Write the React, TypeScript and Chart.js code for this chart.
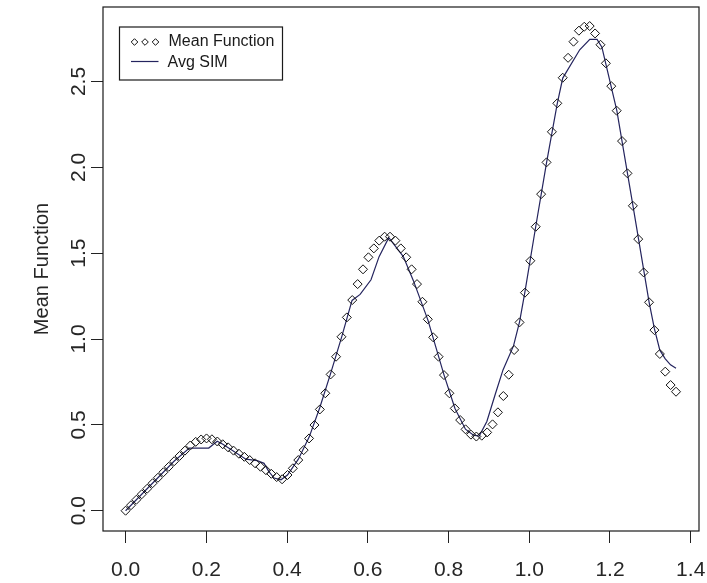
import React, { useEffect, useRef } from 'react';
import { Chart, registerables } from 'chart.js';

Chart.register(...registerables);

const meanX = [
  0, 0.0134, 0.0267, 0.0401, 0.0535, 0.0668, 0.0802, 0.0936, 0.107, 0.1203,
  0.1337, 0.1471, 0.1604, 0.1738, 0.1872, 0.2005, 0.2139, 0.2273, 0.2406, 0.254,
  0.2674, 0.2807, 0.2941, 0.3075, 0.3209, 0.3342, 0.3476, 0.361, 0.3743, 0.3877,
  0.4011, 0.4144, 0.4278, 0.4412, 0.4545, 0.4679, 0.4813, 0.4947, 0.508, 0.5214,
  0.5348, 0.5481, 0.5615, 0.5749, 0.5882, 0.6016, 0.615, 0.6283, 0.6417, 0.6551,
  0.6684, 0.6818, 0.6952, 0.7086, 0.7219, 0.7353, 0.7487, 0.762, 0.7754, 0.7888,
  0.8021, 0.8155, 0.8289, 0.8422, 0.8556, 0.869, 0.8823, 0.8957, 0.9091, 0.9224,
  0.9358, 0.9492, 0.9626, 0.9759, 0.9893, 1.0027, 1.016, 1.0294, 1.0428, 1.0561,
  1.0695, 1.0829, 1.0962, 1.1096, 1.123, 1.1363, 1.1497, 1.1631, 1.1765, 1.1898,
  1.2032, 1.2166, 1.2299, 1.2433, 1.2567, 1.27, 1.2834, 1.2968, 1.3101, 1.3235,
  1.3369, 1.3502, 1.3636,
];

const meanY = [
  0.0, 0.032, 0.064, 0.096, 0.128, 0.16, 0.192, 0.224, 0.256, 0.288,
  0.319, 0.35, 0.38, 0.401, 0.415, 0.421, 0.416, 0.403, 0.387, 0.369,
  0.35, 0.332, 0.314, 0.295, 0.276, 0.256, 0.236, 0.215, 0.196, 0.183,
  0.208, 0.247, 0.295, 0.353, 0.421, 0.499, 0.59, 0.684, 0.794, 0.897,
  1.013, 1.126, 1.227, 1.32, 1.406, 1.476, 1.528, 1.573, 1.596, 1.596,
  1.573, 1.528, 1.476, 1.406, 1.32, 1.217, 1.115, 1.01, 0.897, 0.79,
  0.684, 0.596, 0.528, 0.474, 0.443, 0.432, 0.437, 0.456, 0.503, 0.573,
  0.668, 0.792, 0.936, 1.097, 1.27, 1.456, 1.654, 1.844, 2.029, 2.207,
  2.373, 2.522, 2.638, 2.732, 2.796, 2.819, 2.823, 2.78, 2.714, 2.606,
  2.473, 2.33, 2.153, 1.965, 1.776, 1.582, 1.388, 1.214, 1.052, 0.913,
  0.81, 0.732, 0.693,
];

const simX = [
  0, 0.04, 0.08, 0.12, 0.158, 0.206, 0.227, 0.241, 0.298, 0.326,
  0.343, 0.355, 0.368, 0.385, 0.401, 0.428, 0.455, 0.481, 0.508, 0.535,
  0.561, 0.581, 0.608, 0.628, 0.652, 0.688, 0.713, 0.749, 0.789, 0.816,
  0.842, 0.862, 0.876, 0.895, 0.916, 0.935, 0.961, 0.976, 0.989, 1.016,
  1.043, 1.0695, 1.083, 1.125, 1.15, 1.168, 1.18, 1.19, 1.217, 1.257,
  1.297, 1.31, 1.3235, 1.337, 1.35, 1.3636,
];

const simY = [
  0, 0.096, 0.192, 0.288, 0.365, 0.365, 0.405, 0.387, 0.3, 0.292,
  0.276, 0.228, 0.19, 0.18, 0.208, 0.3, 0.43, 0.6, 0.8, 1.01,
  1.225, 1.26, 1.345, 1.48, 1.59, 1.48, 1.34, 1.11, 0.79, 0.595,
  0.475, 0.44, 0.435, 0.52, 0.68, 0.82, 0.96, 1.1, 1.27, 1.654,
  2.029, 2.373, 2.52, 2.685, 2.745, 2.745, 2.7, 2.6, 2.33, 1.776,
  1.214, 1.06, 0.935, 0.885, 0.85, 0.83,
];

const xTicks = [0, 0.2, 0.4, 0.6, 0.8, 1.0, 1.2, 1.4];
const yTicks = [0, 0.5, 1.0, 1.5, 2.0, 2.5];
const seriesNames = ['Mean Function', 'Avg SIM'];
const yTitle = 'Mean Function';

const FONT = "'Liberation Sans', Arial, sans-serif";
const INK = '#262626';
const LINE = '#24245e';

const framePlugin = {
  id: 'rframe',
  afterDraw(chart: any) {
    const { ctx, chartArea } = chart;
    const { left, top, right, bottom } = chartArea;
    ctx.save();
    ctx.strokeStyle = '#1a1a1a';
    ctx.lineWidth = 1.2;
    ctx.strokeRect(left, top, right - left, bottom - top);

    // legend box
    const bx = left + 16.5;
    const by = top + 20;
    const bw = 163;
    const bh = 53;
    ctx.fillStyle = '#ffffff';
    ctx.fillRect(bx, by, bw, bh);
    ctx.strokeStyle = '#1a1a1a';
    ctx.lineWidth = 1.2;
    ctx.strokeRect(bx, by, bw, bh);

    const y1 = by + 15;
    const y2 = by + 34.5;
    // diamonds
    ctx.strokeStyle = '#111';
    ctx.lineWidth = 1;
    [bx + 15, bx + 25.5, bx + 36].forEach((cx) => {
      const r = 3.3;
      ctx.beginPath();
      ctx.moveTo(cx - r, y1);
      ctx.lineTo(cx, y1 - r);
      ctx.lineTo(cx + r, y1);
      ctx.lineTo(cx, y1 + r);
      ctx.closePath();
      ctx.stroke();
    });
    // line
    ctx.strokeStyle = LINE;
    ctx.lineWidth = 1.2;
    ctx.beginPath();
    ctx.moveTo(bx + 11.5, y2);
    ctx.lineTo(bx + 39, y2);
    ctx.stroke();

    ctx.fillStyle = '#1a1a1a';
    ctx.font = `16px ${FONT}`;
    ctx.textBaseline = 'middle';
    ctx.textAlign = 'left';
    ctx.fillText(seriesNames[0], bx + 49, y1);
    ctx.fillText(seriesNames[1], bx + 48, y2 + 1);
    ctx.restore();
  },
};

export default function App() {
  const ref = useRef<HTMLCanvasElement>(null);

  useEffect(() => {
    const meanData = meanX.map((x, i) => ({ x, y: meanY[i] }));
    const simData = simX.map((x, i) => ({ x, y: simY[i] }));

    const chart = new Chart(ref.current as HTMLCanvasElement, {
      type: 'scatter',
      data: {
        datasets: [
          {
            label: seriesNames[0],
            data: meanData,
            showLine: false,
            pointStyle: 'rectRot',
            pointRadius: 4.5,
            pointBorderWidth: 1,
            pointBorderColor: '#111',
            pointBackgroundColor: 'rgba(0,0,0,0)',
          },
          {
            label: seriesNames[1],
            data: simData,
            showLine: true,
            borderColor: LINE,
            borderWidth: 1.2,
            pointRadius: 0,
            tension: 0,
            fill: false,
          },
        ],
      },
      options: {
        animation: false,
        responsive: false,
        devicePixelRatio: 1,
        clip: false as any,
        layout: { padding: { top: 7, right: 8, left: 0, bottom: 0 } },
        plugins: {
          legend: { display: false },
          tooltip: { enabled: false },
        },
        scales: {
          x: {
            type: 'linear',
            min: -0.05596,
            max: 1.42054,
            afterBuildTicks: (s: any) => {
              s.ticks = xTicks.map((v) => ({ value: v }));
            },
            afterFit: (s: any) => {
              s.height = 52;
              s.paddingLeft = 0;
              s.paddingRight = 0;
            },
            border: { display: false },
            grid: {
              display: true,
              drawOnChartArea: false,
              drawTicks: true,
              tickLength: 12,
              color: '#222',
              lineWidth: 1,
            },
            ticks: {
              autoSkip: false,
              maxRotation: 0,
              minRotation: 0,
              padding: 15,
              color: INK,
              font: { family: FONT, size: 21 },
              callback: (v: any) => Number(v).toFixed(1),
            },
          },
          y: {
            type: 'linear',
            min: -0.1182,
            max: 2.934,
            afterBuildTicks: (s: any) => {
              s.ticks = yTicks.map((v) => ({ value: v }));
            },
            afterFit: (s: any) => {
              s.width = 103;
              s.paddingTop = 0;
              s.paddingBottom = 0;
            },
            border: { display: false },
            grid: {
              display: true,
              drawOnChartArea: false,
              drawTicks: true,
              tickLength: 12,
              color: '#222',
              lineWidth: 1,
            },
            ticks: {
              autoSkip: false,
              minRotation: 90,
              maxRotation: 90,
              crossAlign: 'center',
              padding: -3,
              color: INK,
              font: { family: FONT, size: 21 },
              callback: (v: any) => Number(v).toFixed(1),
            },
            title: {
              display: true,
              text: yTitle,
              color: INK,
              font: { family: FONT, size: 20 },
              padding: { top: 30, bottom: 0 },
            },
          },
        },
      },
      plugins: [framePlugin],
    } as any);

    return () => chart.destroy();
  }, []);

  return (
    <div
      style={{
        position: 'absolute',
        left: 0,
        top: 0,
        width: 707,
        height: 583,
        background: '#ffffff',
      }}
    >
      <canvas
        ref={ref}
        width={707}
        height={583}
        style={{ display: 'block', width: 707, height: 583 }}
      />
    </div>
  );
}
